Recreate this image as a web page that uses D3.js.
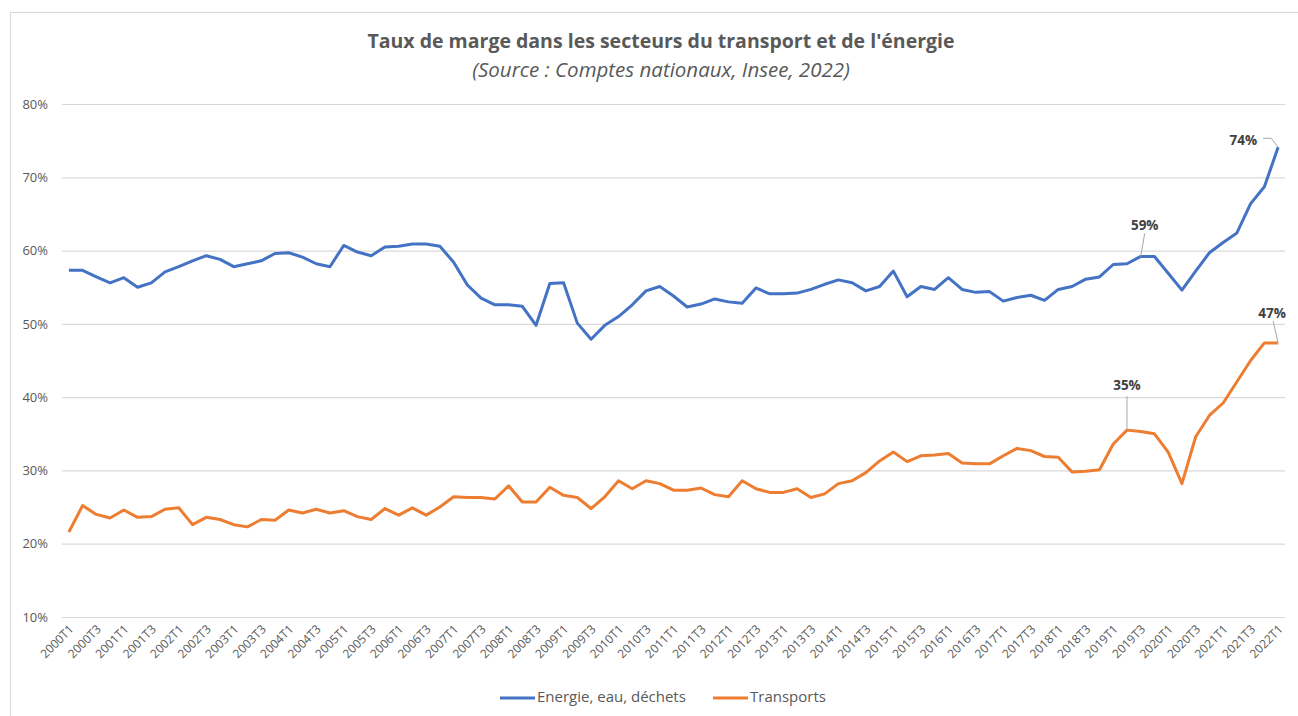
<!DOCTYPE html>
<html>
<head>
<meta charset="utf-8">
<script src="https://cdn.jsdelivr.net/npm/d3@7"></script>
<style>
  body { margin: 0; background: #fff; }
  text { font-family: "Open Sans", "Liberation Sans", sans-serif; }
</style>
</head>
<body>
<script>
// quarters 2000T1 .. 2022T1
const quarters = [];
for (let yr = 2000; yr <= 2022; yr++) {
    for (let q = 1; q <= 4; q++) {
        if (yr === 2022 && q > 1) break;
        quarters.push(yr + "T" + q);
    }
}

const energie = [
    57.3, 57.3, 56.4, 55.6, 56.3, 55.0, 55.6, 57.1, 57.8, 58.6,
    59.3, 58.8, 57.8, 58.2, 58.6, 59.6, 59.7, 59.1, 58.2, 57.8,
    60.7, 59.8, 59.3, 60.5, 60.6, 60.9, 60.9, 60.6, 58.4, 55.3,
    53.5, 52.6, 52.6, 52.4, 49.8, 55.5, 55.6, 50.1, 47.9, 49.8,
    51.0, 52.6, 54.5, 55.1, 53.8, 52.3, 52.7, 53.4, 53.0, 52.8,
    54.9, 54.1, 54.1, 54.2, 54.7, 55.4, 56.0, 55.6, 54.5, 55.1,
    57.2, 53.7, 55.1, 54.7, 56.3, 54.7, 54.3, 54.4, 53.1, 53.6,
    53.9, 53.2, 54.7, 55.1, 56.1, 56.4, 58.1, 58.2, 59.2, 59.2,
    56.9, 54.6, 57.2, 59.7, 61.1, 62.4, 66.4, 68.7, 74.1
];

const transports = [
    21.6, 25.2, 24.0, 23.5, 24.6, 23.6, 23.7, 24.7, 24.9, 22.6,
    23.6, 23.3, 22.6, 22.3, 23.3, 23.2, 24.6, 24.2, 24.7, 24.2,
    24.5, 23.7, 23.3, 24.8, 23.9, 24.9, 23.9, 25.0, 26.4, 26.3,
    26.3, 26.1, 27.9, 25.7, 25.7, 27.7, 26.6, 26.3, 24.8, 26.4,
    28.6, 27.5, 28.6, 28.2, 27.3, 27.3, 27.6, 26.7, 26.4, 28.6,
    27.5, 27.0, 27.0, 27.5, 26.3, 26.8, 28.2, 28.6, 29.7, 31.3,
    32.5, 31.2, 32.0, 32.1, 32.3, 31.0, 30.9, 30.9, 32.0, 33.0,
    32.7, 31.9, 31.8, 29.8, 29.9, 30.1, 33.6, 35.5, 35.3, 35.0,
    32.5, 28.2, 34.6, 37.5, 39.2, 42.1, 45.0, 47.4, 47.4
];

const yTicks = [10, 20, 30, 40, 50, 60, 70, 80];

// annotated points: series, quarter, label
const annotations = [
    { serie: "energie", quarter: "2019T3", label: "59%" },
    { serie: "energie", quarter: "2022T1", label: "74%" },
    { serie: "transports", quarter: "2019T2", label: "35%" },
    { serie: "transports", quarter: "2022T1", label: "47%" }
];

const W = 1298, H = 716;
const plotLeft = 62, plotRight = 1285, plotTop = 104, plotBottom = 617;
const grey = "#595959";
const colors = { energie: "#4472C4", transports: "#ED7D31" };
const series = { energie: energie, transports: transports };

const svg = d3.select("body").append("svg")
    .attr("width", W)
    .attr("height", H);

// chart frame
svg.append("rect")
    .attr("x", 10.5).attr("y", 12.5)
    .attr("width", W).attr("height", H)
    .attr("fill", "none")
    .attr("stroke", "#d9d9d9");

const x = d3.scalePoint()
    .domain(quarters)
    .range([plotLeft, plotRight])
    .padding(0.5);

const y = d3.scaleLinear()
    .domain([10, 80])
    .range([plotBottom, plotTop]);

// title
svg.append("text")
    .attr("x", 661).attr("y", 48)
    .attr("text-anchor", "middle")
    .attr("font-size", "19.5px")
    .attr("font-weight", "bold")
    .attr("fill", grey)
    .text("Taux de marge dans les secteurs du transport et de l'énergie");

svg.append("text")
    .attr("x", 661).attr("y", 77)
    .attr("text-anchor", "middle")
    .attr("font-size", "20.5px")
    .attr("font-style", "italic")
    .attr("fill", grey)
    .text("(Source : Comptes nationaux, Insee, 2022)");

// gridlines + y labels
const yAxis = svg.append("g")
    .attr("transform", `translate(${plotLeft},0)`)
    .call(d3.axisLeft(y)
        .tickValues(yTicks)
        .tickSize(-(plotRight - plotLeft))
        .tickPadding(14)
        .tickFormat(d => d + "%"));
yAxis.select(".domain").remove();
yAxis.selectAll(".tick line").attr("stroke", "#d9d9d9").attr("stroke-width", 1.2);
yAxis.selectAll(".tick text")
    .attr("fill", grey)
    .attr("font-size", "13px");

// x labels every 2 quarters
const xAxis = svg.append("g")
    .attr("transform", `translate(0,${plotBottom})`)
    .call(d3.axisBottom(x)
        .tickValues(quarters.filter((d, i) => i % 2 === 0))
        .tickSize(0)
        .tickPadding(0));
xAxis.select(".domain").remove();
xAxis.selectAll(".tick text")
    .attr("fill", grey)
    .attr("font-size", "12px")
    .attr("text-anchor", "end")
    .attr("dy", "0")
    .attr("transform", "translate(5,13) rotate(-45)");

// lines
const line = d3.line()
    .x((d, i) => x(quarters[i]))
    .y(d => y(d));

Object.keys(series).forEach(key => {
    svg.append("path")
        .datum(series[key])
        .attr("fill", "none")
        .attr("stroke", colors[key])
        .attr("stroke-width", 3)
        .attr("stroke-linejoin", "round")
        .attr("d", line);
});

// data labels with leader lines
annotations.forEach(a => {
    const i = quarters.indexOf(a.quarter);
    const px = x(a.quarter), py = y(series[a.serie][i]);
    let tx, ty, anchor, pts;
    if (a.label === "74%") {
        tx = px - 21; ty = py - 6; anchor = "end";
        pts = [[px, py], [px - 7, py - 9], [px - 15, py - 9]];
    } else if (a.label === "47%") {
        tx = px - 6; ty = py - 29; anchor = "middle";
        pts = [[px, py], [px - 5, py - 22]];
    } else if (a.label === "35%") {
        tx = px; ty = py - 44; anchor = "middle";
        pts = [[px, py], [px, py - 34]];
    } else {
        tx = px + 4; ty = py - 30; anchor = "middle";
        pts = [[px, py], [px + 4, py - 23]];
    }
    svg.append("path")
        .attr("d", d3.line()(pts))
        .attr("fill", "none")
        .attr("stroke", "#a6a6a6")
        .attr("stroke-width", 1);
    svg.append("text")
        .attr("x", tx).attr("y", ty)
        .attr("text-anchor", anchor)
        .attr("dominant-baseline", "middle")
        .attr("font-size", "13.5px")
        .attr("font-weight", "bold")
        .attr("fill", "#404040")
        .text(a.label);
});

// legend
const legend = [
    { key: "energie", name: "Energie, eau, déchets", x: 500 },
    { key: "transports", name: "Transports", x: 713 }
];
legend.forEach(l => {
    svg.append("line")
        .attr("x1", l.x).attr("x2", l.x + 35)
        .attr("y1", 698).attr("y2", 698)
        .attr("stroke", colors[l.key])
        .attr("stroke-width", 3);
    svg.append("text")
        .attr("x", l.x + 37).attr("y", 698)
        .attr("dominant-baseline", "middle")
        .attr("font-size", "15px")
        .attr("fill", grey)
        .text(l.name);
});
</script>
</body>
</html>
